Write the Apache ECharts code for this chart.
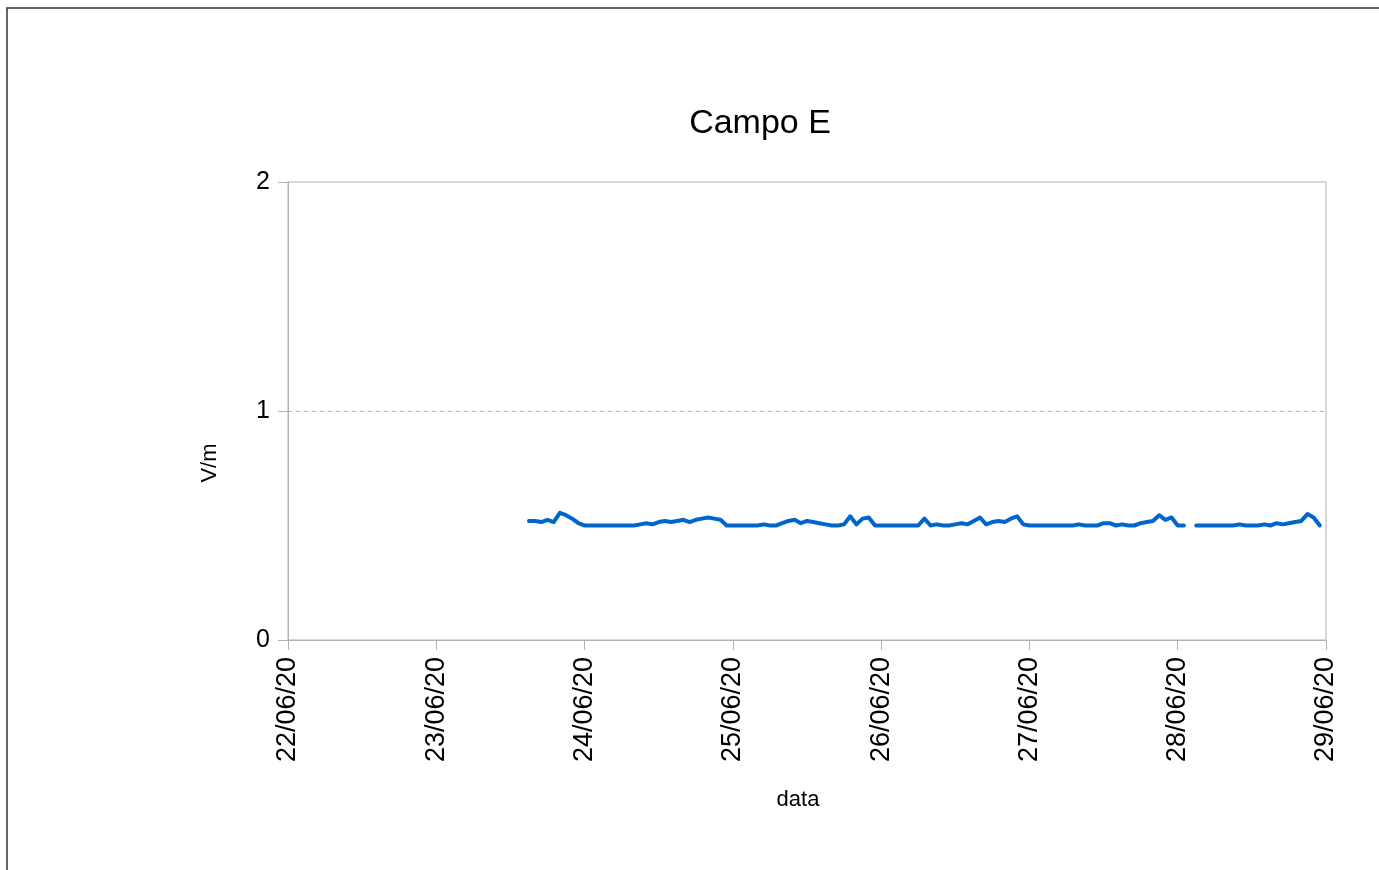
<!DOCTYPE html>
<html>
<head>
<meta charset="utf-8">
<script src="https://cdn.jsdelivr.net/npm/echarts@6/dist/echarts.min.js"></script>
<style>
html,body{margin:0;padding:0;background:#fff;}
#c{width:1379px;height:870px;}
</style>
</head>
<body>
<div id="c"></div>
<script>
// Tick labels (one per day, 22/06/20 .. 29/06/20)
const dateLabels = ['22/06/20','23/06/20','24/06/20','25/06/20','26/06/20','27/06/20','28/06/20','29/06/20'];
// Hourly readings (V/m). First reading: 23/06/20 15:00 (hour 39 after 22/06 00:00)
const startHour = 39;
const day23 = [0.52,0.52,0.515,0.525,0.515,0.555,0.545,0.53,0.51];
const day24 = [0.50,0.50,0.50,0.50,0.50,0.50,0.50,0.50,0.50,0.505,0.51,0.505,0.515,0.52,0.515,0.52,0.525,0.515,0.525,0.53,0.535,0.53,0.525,0.50];
const day25 = [0.50,0.50,0.50,0.50,0.50,0.505,0.50,0.50,0.51,0.52,0.525,0.51,0.52,0.515,0.51,0.505,0.50,0.50,0.505,0.54,0.505,0.53,0.535,0.50];
const day26 = [0.50,0.50,0.50,0.50,0.50,0.50,0.50,0.53,0.50,0.505,0.50,0.50,0.505,0.51,0.505,0.52,0.535,0.505,0.515,0.52,0.515,0.53,0.54,0.505];
const day27 = [0.50,0.50,0.50,0.50,0.50,0.50,0.50,0.50,0.505,0.50,0.50,0.50,0.51,0.51,0.50,0.505,0.50,0.50,0.51,0.515,0.52,0.545,0.525,0.535];
const day28 = [0.50,0.50,null,0.50,0.50,0.50,0.50,0.50,0.50,0.50,0.505,0.50,0.50,0.50,0.505,0.50,0.51,0.505,0.51,0.515,0.52,0.55,0.535,0.50];

const values = [].concat(day23, day24, day25, day26, day27, day28);
const seriesData = values.map((v, i) => [startHour + i, v]);

const FONT = '"Liberation Sans", Arial, sans-serif';
const chart = echarts.init(document.getElementById('c'), null, {renderer: 'canvas'});
chart.setOption({
  animation: false,
  backgroundColor: '#ffffff',
  title: {
    text: 'Campo E',
    left: 755,
    top: 102,
    textAlign: 'center',
    textStyle: {fontFamily: FONT, fontSize: 34, fontWeight: 'normal', color: '#000'}
  },
  graphic: [
    {type: 'rect', shape: {x: 7, y: 8, width: 3000, height: 3000},
     style: {fill: 'none', stroke: '#333333', lineWidth: 1.5}, silent: true},
    {type: 'text', x: 798, y: 800,
     style: {text: 'data', font: '22px ' + FONT, fill: '#000', textAlign: 'center', textVerticalAlign: 'middle'}},
    {type: 'text', x: 210, y: 463, rotation: Math.PI / 2,
     style: {text: 'V/m', font: '22px ' + FONT, fill: '#000', textAlign: 'center', textVerticalAlign: 'middle'}}
  ],
  grid: {
    left: 288, right: 53, top: 182, bottom: 230,
    show: true, borderColor: '#b3b3b3', borderWidth: 1, backgroundColor: 'transparent',
    containLabel: false
  },
  xAxis: {
    type: 'value',
    min: 0, max: 168, interval: 24,
    axisLine: {show: true, lineStyle: {color: '#b3b3b3', width: 1}},
    axisTick: {show: true, length: 10, inside: false, lineStyle: {color: '#b3b3b3'}},
    splitLine: {show: false},
    axisLabel: {
      rotate: 90, margin: 17, color: '#000', fontFamily: FONT, fontSize: 27,
      formatter: v => dateLabels[Math.round(v / 24)] || ''
    }
  },
  yAxis: {
    type: 'value',
    min: 0, max: 2, interval: 1,
    axisLine: {show: true, lineStyle: {color: '#b3b3b3', width: 1}},
    axisTick: {show: true, length: 10, inside: false, lineStyle: {color: '#b3b3b3'}},
    splitLine: {show: true, showMaxLine: false, showMinLine: false, lineStyle: {color: '#b3b3b3', type: [4, 4], width: 1}},
    axisLabel: {margin: 18, color: '#000', fontFamily: FONT, fontSize: 25}
  },
  series: [{
    type: 'line',
    data: seriesData,
    showSymbol: false,
    connectNulls: false,
    lineStyle: {color: '#0066cc', width: 4, join: 'round', cap: 'round'},
    itemStyle: {color: '#0066cc'}
  }]
});
</script>
</body>
</html>
